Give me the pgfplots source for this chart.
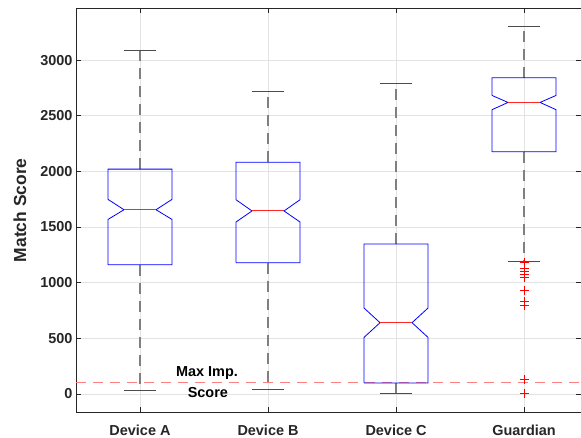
\documentclass[border=0pt]{standalone}
\usepackage{pgfplots}
\pgfplotsset{compat=1.18}
\usepackage{fontspec}
\setmainfont{Liberation Sans}
\pgfplotsset{
  whisk/.style={black!50, line width=1.2bp, dash pattern=on 11bp off 7bp},
  cap/.style={black!70, line width=0.8bp},
  boxs/.style={blue, line width=0.8bp},
  med/.style={red!85, line width=1bp},
}
\begin{document}
\begin{tikzpicture}
\begin{axis}[
  scale only axis, width=505bp, height=404bp,
  xmin=0.5, xmax=4.445, ymin=-165, ymax=3465,
  xtick={1,2,3,4}, xticklabels={Device A, Device B, Device C, Guardian},
  ytick={0,500,...,3000},
  grid=major, major grid style={black!11, line width=0.7bp},
  tick align=inside, major tick length=5bp,
  tick style={color=black!85, line width=0.6bp},
  axis line style={black!85, line width=0.7bp},
  ticklabel style={font=\fontsize{14.5}{16}\selectfont\bfseries, text=black!85},
  xticklabel style={yshift=-9bp},
  /pgf/number format/assume math mode=true,
  /pgf/number format/1000 sep={},
  ylabel={Match Score},
  ylabel style={font=\fontsize{17.5}{19}\selectfont\bfseries, text=black!85, at={(rel axis cs:0,0.5)}, anchor=center, yshift=56bp},
]
\coordinate (sw) at (rel axis cs:0,0);
\coordinate (ne) at (rel axis cs:1,1);
% Max impostor score line
\addplot[red!50, line width=1.1bp, dash pattern=on 10bp off 7bp] coordinates {(0.5,100) (4.445,100)};
% Device A
\addplot[whisk] coordinates {(1,2020) (1,3090)};
\addplot[whisk] coordinates {(1,1160) (1,35)};
\addplot[cap] coordinates {(0.875,3090) (1.125,3090)};
\addplot[cap] coordinates {(0.875,35) (1.125,35)};
\addplot[boxs] coordinates {(0.75,1160) (1.25,1160) (1.25,1568) (1.125,1655) (1.25,1748) (1.25,2020) (0.75,2020) (0.75,1748) (0.875,1655) (0.75,1568) (0.75,1160)};
\addplot[med] coordinates {(0.875,1655) (1.125,1655)};
% Device B
\addplot[whisk] coordinates {(2,2082) (2,2718)};
\addplot[whisk] coordinates {(2,1179) (2,45)};
\addplot[cap] coordinates {(1.875,2718) (2.125,2718)};
\addplot[cap] coordinates {(1.875,45) (2.125,45)};
\addplot[boxs] coordinates {(1.75,1179) (2.25,1179) (2.25,1545) (2.125,1644) (2.25,1745) (2.25,2082) (1.75,2082) (1.75,1745) (1.875,1644) (1.75,1545) (1.75,1179)};
\addplot[med] coordinates {(1.875,1644) (2.125,1644)};
% Device C
\addplot[whisk] coordinates {(3,1347) (3,2793)};
\addplot[whisk] coordinates {(3,99) (3,5)};
\addplot[cap] coordinates {(2.875,2793) (3.125,2793)};
\addplot[cap] coordinates {(2.875,5) (3.125,5)};
\addplot[boxs] coordinates {(2.75,99) (3.25,99) (3.25,508) (3.125,640) (3.25,772) (3.25,1347) (2.75,1347) (2.75,772) (2.875,640) (2.75,508) (2.75,99)};
\addplot[med] coordinates {(2.875,640) (3.125,640)};
% Guardian
\addplot[whisk] coordinates {(4,2841) (4,3302)};
\addplot[whisk] coordinates {(4,2176) (4,1188)};
\addplot[cap] coordinates {(3.875,3302) (4.125,3302)};
\addplot[cap] coordinates {(3.875,1188) (4.125,1188)};
\addplot[boxs] coordinates {(3.75,2176) (4.25,2176) (4.25,2554) (4.125,2619) (4.25,2682) (4.25,2841) (3.75,2841) (3.75,2682) (3.875,2619) (3.75,2554) (3.75,2176)};
\addplot[med] coordinates {(3.875,2619) (4.125,2619)};
\addplot[only marks, mark=+, red, mark size=4.5bp, mark options={line width=0.7bp}] coordinates {(4,1185) (4,1125) (4,1100) (4,1075) (4,1050) (4,930) (4,830) (4,795) (4,130) (4,5)};
% label
\node[font=\fontsize{14.5}{16}\selectfont\bfseries, anchor=base, yshift=6bp] at (axis cs:1.523,100) {Max Imp.};
\node[font=\fontsize{14.5}{16}\selectfont\bfseries, anchor=base, yshift=-15bp] at (axis cs:1.53,100) {Score};
\end{axis}
\pgfresetboundingbox
\path ([xshift=-76bp,yshift=-25.7bp]sw) rectangle ([yshift=8.3bp]ne);
\end{tikzpicture}
\end{document}
